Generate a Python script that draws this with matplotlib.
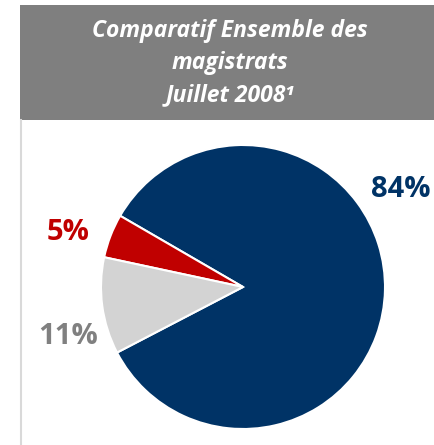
import matplotlib
matplotlib.use("Agg")
import matplotlib.pyplot as plt
from matplotlib.patches import Rectangle
from matplotlib.lines import Line2D

# data
labels = ["Ensemble", "Groupe A", "Groupe B"]
values = [84, 5, 11]
pct_labels = ["84%", "5%", "11%"]
colors = ["#003366", "#C00000", "#D3D3D3"]
label_colors = ["#003366", "#C00000", "#808080"]
title_lines = "Comparatif Ensemble des\nmagistrats\nJuillet 2008\u00b9"

FONT = ["Open Sans", "DejaVu Sans"]

W, H = 434, 445
fig = plt.figure(figsize=(W / 100, H / 100), dpi=100)

def fx(px):
    return px / W

def fy(py):
    return 1 - py / H

# header box
fig.patches.append(Rectangle((fx(20), fy(120)), fx(434) - fx(20), fy(5) - fy(120),
                             transform=fig.transFigure, facecolor="#7F7F7F",
                             edgecolor="none", zorder=0))
fig.lines.append(Line2D([fx(21), fx(21)], [fy(120), fy(445)], transform=fig.transFigure,
                        color="#D9D9D9", linewidth=1.5))
fig.text(fx(230), fy(63), title_lines, ha="center", va="center", color="white",
         fontsize=16.5, fontweight="bold", fontstyle="italic", family=FONT,
         linespacing=1.45)

# pie
cx, cy, r = 243, 287, 142
ax = fig.add_axes([fx(cx - r), fy(cy + r), (2 * r) / W, (2 * r) / H])
ax.pie(values, colors=colors, startangle=207.5, counterclock=True,
       wedgeprops=dict(edgecolor="white", linewidth=1.5))
ax.set_xlim(-1, 1)
ax.set_ylim(-1, 1)
ax.set_aspect("auto")
ax.axis("off")

label_pos = [(401, 190), (68, 233), (68, 337)]
for txt, col, (px, py) in zip(pct_labels, label_colors, label_pos):
    fig.text(fx(px), fy(py), txt, ha="center", va="center", color=col,
             fontsize=21, fontweight="bold", family=FONT)

fig.savefig("out.png", dpi=100)
